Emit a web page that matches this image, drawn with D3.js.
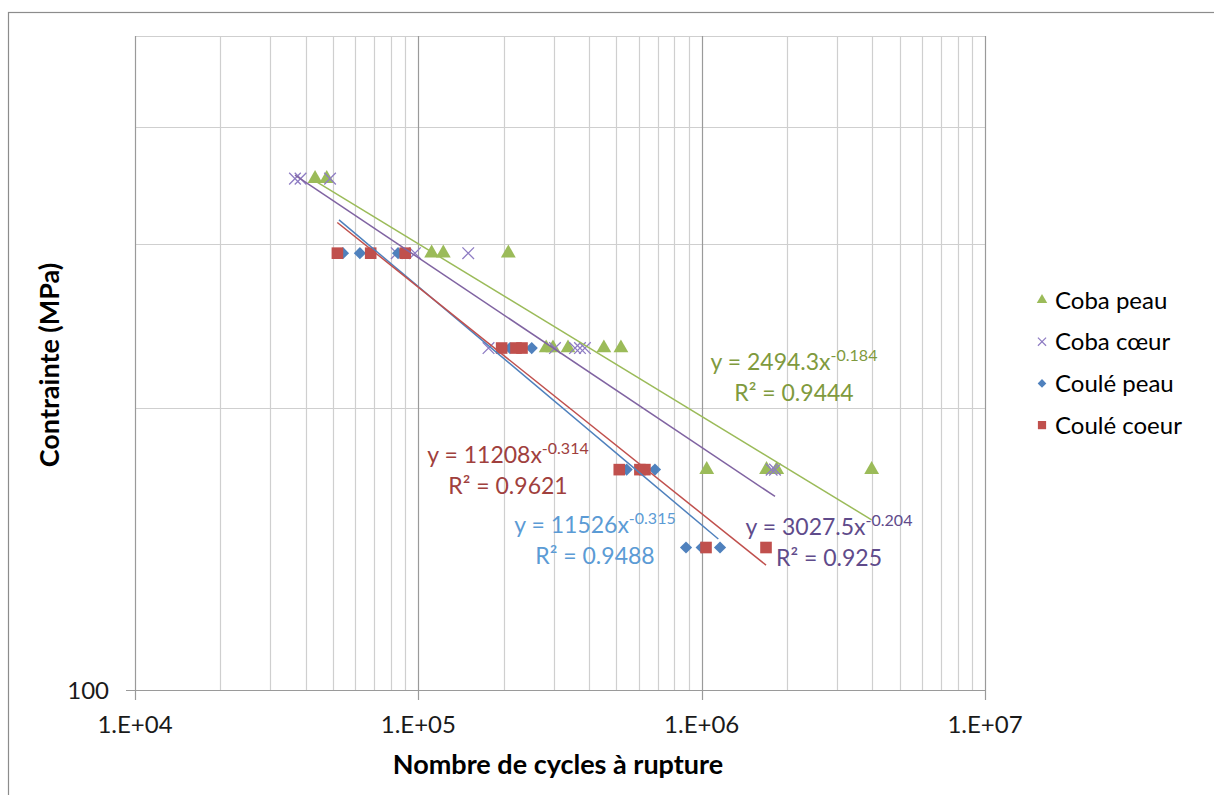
<!DOCTYPE html>
<meta charset="utf-8">
<style>
  body {
    margin: 0;
    background-color: white;
    font-family: Lato, "Open Sans", sans-serif;
  }
  .tick-label {
    font-size: 24px;
    fill: #1a1a1a;
  }
  .axis-title {
    font-size: 27px;
    font-weight: bold;
    fill: #000;
  }
  .legend-text {
    font-size: 24px;
    fill: #000;
  }
  .fit-label {
    font-size: 23px;
  }
</style>

<body>
  <script src="https://d3js.org/d3.v7.min.js"></script>
  <div id="chart"></div>
  <script>

    // cycles to failure and stress (MPa)
    var cobaPeauN = [43200, 47500, 111400, 122500, 207800, 282600, 298700, 337500, 451700, 518800, 1042000, 1694000, 1840000, 3980000];
    var cobaPeauS = [352, 352, 293, 293, 293, 232, 232, 232, 232, 232, 172, 172, 172, 172];

    var cobaCoeurN = [36700, 38400, 48800, 83900, 97300, 150000, 176900, 303600, 357300, 372000, 387200, 1766000, 1815000];
    var cobaCoeurS = [352, 352, 352, 293, 293, 293, 232, 232, 232, 232, 232, 172, 172];

    var couleePeauN = [54200, 62200, 84800, 210600, 251300, 543600, 684100, 880600, 1000000, 1161000];
    var couleePeauS = [293, 293, 293, 232, 232, 172, 172, 142, 142, 142];

    var couleeCoeurN = [51800, 67900, 89900, 196800, 221100, 232200, 511900, 605300, 630600, 1036000, 1687000];
    var couleeCoeurS = [293, 293, 293, 232, 232, 232, 172, 172, 172, 142, 142];

    // power trendlines (straight on log-log), end points as drawn
    var trendCobaPeau = [[43200, 350], [3980000, 152]];
    var trendCobaCoeur = [[36700, 355], [1815000, 161]];
    var trendCouleePeau = [[52480, 318], [1145000, 145]];
    var trendCouleeCoeur = [[51760, 316], [1687000, 136]];

    var seriesNames = ["Coba peau", "Coba cœur", "Coulé peau", "Coulé coeur"];
    var colors = ["#9BBB59", "#8E7CC3", "#4F81BD", "#C0504D"];
    var labelColors = ["#7F9A3E", "#5F4B8B", "#5B9BD5", "#A0403D"];
    var eqMain = ["y = 2494.3x", "y = 3027.5x", "y = 11526x", "y = 11208x"];
    var eqExp = ["-0.184", "-0.204", "-0.315", "-0.314"];
    var eqR2 = ["R² = 0.9444", "R² = 0.925", "R² = 0.9488", "R² = 0.9621"];

    var xTicks = [1e4, 1e5, 1e6, 1e7];
    var xTickLabels = ["1.E+04", "1.E+05", "1.E+06", "1.E+07"];
    var yTicks = [100];
    var yTickLabels = ["100"];

    var margin = { top: 36, left: 135 },
      width = 850,
      height = 654;

    var svg = d3.select("#chart")
      .append("svg")
      .attr("width", 1214)
      .attr("height", 795);

    // chart area border
    svg.append("rect")
      .attr("x", 8.5).attr("y", 12.5)
      .attr("width", 1300).attr("height", 900)
      .attr("fill", "none")
      .attr("stroke", "#8c8c8c")
      .attr("stroke-width", 1.2);

    var g = svg.append("g")
      .attr("transform", "translate(" + margin.left + "," + margin.top + ")");

    var x = d3.scaleLog().domain([1e4, 1e7]).range([0, width]);
    var y = d3.scaleLog().domain([100, 500]).range([height, 0]);

    // minor gridlines
    var xMinor = [];
    for (var d = 1e4; d < 1e7; d *= 10) {
      for (var k = 2; k <= 9; k++) xMinor.push(d * k);
    }
    g.selectAll(".xminor").data(xMinor).enter().append("line")
      .attr("x1", function (v) { return Math.round(x(v)) + 0.5; })
      .attr("x2", function (v) { return Math.round(x(v)) + 0.5; })
      .attr("y1", 0).attr("y2", height)
      .attr("stroke", "#cfcfcf").attr("stroke-width", 1.2);

    var yMinor = [200, 300, 400, 500];
    g.selectAll(".yminor").data(yMinor).enter().append("line")
      .attr("x1", 0).attr("x2", width)
      .attr("y1", function (v) { return Math.round(y(v)) + 0.5; })
      .attr("y2", function (v) { return Math.round(y(v)) + 0.5; })
      .attr("stroke", "#cfcfcf").attr("stroke-width", 1.2);

    // major gridlines (decades)
    g.selectAll(".xmajor").data(xTicks).enter().append("line")
      .attr("x1", function (v) { return Math.round(x(v)) + 0.5; })
      .attr("x2", function (v) { return Math.round(x(v)) + 0.5; })
      .attr("y1", 0).attr("y2", height + 10)
      .attr("stroke", "#9a9a9a").attr("stroke-width", 1.2);

    g.selectAll(".ymajor").data(yTicks).enter().append("line")
      .attr("x1", -9).attr("x2", width)
      .attr("y1", function (v) { return Math.round(y(v)) + 0.5; })
      .attr("y2", function (v) { return Math.round(y(v)) + 0.5; })
      .attr("stroke", "#9a9a9a").attr("stroke-width", 1.2);

    // tick labels
    g.selectAll(".xlab").data(xTicks).enter().append("text")
      .attr("class", "tick-label")
      .attr("x", function (v) { return x(v); })
      .attr("y", height + 43)
      .attr("text-anchor", "middle")
      .text(function (v, i) { return xTickLabels[i]; });

    g.selectAll(".ylab").data(yTicks).enter().append("text")
      .attr("class", "tick-label")
      .attr("x", -26)
      .attr("y", function (v) { return y(v); })
      .attr("dy", "0.36em")
      .attr("text-anchor", "end")
      .text(function (v, i) { return yTickLabels[i]; });

    // axis titles
    svg.append("text")
      .attr("class", "axis-title")
      .attr("x", 558).attr("y", 774)
      .attr("text-anchor", "middle")
      .text("Nombre de cycles à rupture");

    svg.append("text")
      .attr("class", "axis-title")
      .attr("transform", "translate(59,365) rotate(-90)")
      .attr("text-anchor", "middle")
      .text("Contrainte (MPa)");

    // trendlines
    var trends = [trendCobaPeau, trendCobaCoeur, trendCouleePeau, trendCouleeCoeur];
    var line = d3.line()
      .x(function (p) { return x(p[0]); })
      .y(function (p) { return y(p[1]); });

    // markers
    var series = [
      { n: cobaPeauN, s: cobaPeauS, sym: d3.symbolTriangle, size: 95 },
      { n: cobaCoeurN, s: cobaCoeurS, sym: d3.symbolX, size: 90 },
      { n: couleePeauN, s: couleePeauS, sym: d3.symbolDiamond2, size: 95 },
      { n: couleeCoeurN, s: couleeCoeurS, sym: d3.symbolSquare, size: 135 }
    ];

    series.forEach(function (ser, i) {
      var pts = ser.n.map(function (v, j) { return [v, ser.s[j]]; });
      var mark = g.append("g").selectAll("path").data(pts).enter().append("path")
        .attr("transform", function (p) { return "translate(" + x(p[0]) + "," + y(p[1]) + ")"; })
        .attr("d", d3.symbol().type(ser.sym).size(ser.size));
      if (ser.sym === d3.symbolX) {
        mark.attr("fill", "none").attr("stroke", colors[i]).attr("stroke-width", 1.3);
      } else {
        mark.attr("fill", colors[i]);
      }
    });

    trends.forEach(function (t, i) {
      g.append("path")
        .attr("d", line(t))
        .attr("fill", "none")
        .attr("stroke", i === 1 ? "#8064A2" : colors[i])
        .attr("stroke-width", 1.5);
    });

    // trendline labels: centre x and baseline of first row
    var labelPos = [[794, 370], [829, 535], [595, 533], [508, 463]];
    labelPos.forEach(function (p, i) {
      var t = svg.append("text")
        .attr("class", "fit-label")
        .attr("fill", labelColors[i])
        .attr("text-anchor", "middle")
        .attr("x", p[0]).attr("y", p[1]);
      t.append("tspan").text(eqMain[i]);
      t.append("tspan").attr("dy", -9).style("font-size", "16px").text(eqExp[i]);
      svg.append("text")
        .attr("class", "fit-label")
        .attr("fill", labelColors[i])
        .attr("text-anchor", "middle")
        .attr("x", p[0]).attr("y", p[1] + 31)
        .text(eqR2[i]);
    });

    // legend
    var legend = svg.append("g").attr("transform", "translate(1042,300)");
    series.forEach(function (ser, i) {
      var row = legend.append("g").attr("transform", "translate(0," + (i * 41.7) + ")");
      var m = row.append("path")
        .attr("d", d3.symbol().type(ser.sym).size(ser.size * 0.5));
      if (ser.sym === d3.symbolX) {
        m.attr("fill", "none").attr("stroke", colors[i]).attr("stroke-width", 1.2);
      } else {
        m.attr("fill", colors[i]);
      }
      row.append("text")
        .attr("class", "legend-text")
        .attr("x", 13).attr("dy", "0.36em")
        .text(seriesNames[i]);
    });

  </script>
</body>
